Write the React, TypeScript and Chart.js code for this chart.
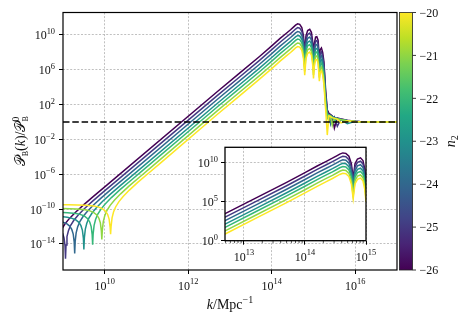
import { useEffect, useRef } from "react";
import { Chart, registerables } from "chart.js";

Chart.register(...registerables);

const SERIF = '"Liberation Serif", "DejaVu Serif", serif';
const MATH = '"DejaVu Serif", "DejaVu Sans", "Liberation Serif", serif';

// ---------------- data (log10 values) ----------------
const n2Values = [-26, -25, -24, -23, -22, -21, -20];

// low-k part: plateau, zero-crossing dip, onset of the k^4 rise (own k grid per curve)
const lowLogK_n26 = [7.85, 8.25, 8.45, 8.55, 8.65, 8.73, 8.78, 8.815, 8.838, 8.85, 8.862, 8.885, 8.92, 8.97, 9.05, 9.15, 9.3, 9.5, 9.75, 10.05];
const lowLogP_n26 = [-12.05, -12.11, -12.2, -12.3, -12.49, -12.79, -13.17, -13.7, -14.59, -16.15, -14.54, -13.56, -12.89, -12.31, -11.69, -11.1, -10.37, -9.49, -8.46, -7.25];
const lowLogK_n25 = [8.06, 8.46, 8.66, 8.76, 8.86, 8.94, 8.99, 9.025, 9.048, 9.06, 9.072, 9.095, 9.13, 9.18, 9.26, 9.36, 9.51, 9.71, 9.96, 10.26];
const lowLogP_n25 = [-11.65, -11.71, -11.8, -11.9, -12.09, -12.39, -12.77, -13.3, -14.19, -15.7, -14.14, -13.16, -12.49, -11.91, -11.29, -10.7, -9.97, -9.09, -8.06, -6.85];
const lowLogK_n24 = [8.28, 8.68, 8.88, 8.98, 9.08, 9.16, 9.21, 9.245, 9.268, 9.28, 9.292, 9.315, 9.35, 9.4, 9.48, 9.58, 9.73, 9.93, 10.18, 10.48];
const lowLogP_n24 = [-11.22, -11.28, -11.37, -11.47, -11.66, -11.96, -12.34, -12.87, -13.76, -15.1, -13.71, -12.73, -12.06, -11.48, -10.86, -10.27, -9.54, -8.66, -7.63, -6.42];
const lowLogK_n23 = [8.5, 8.9, 9.1, 9.2, 9.3, 9.38, 9.43, 9.465, 9.488, 9.5, 9.512, 9.535, 9.57, 9.62, 9.7, 9.8, 9.95, 10.15, 10.4, 10.7];
const lowLogP_n23 = [-10.79, -10.85, -10.94, -11.04, -11.23, -11.53, -11.91, -12.44, -13.33, -14.65, -13.28, -12.3, -11.63, -11.05, -10.43, -9.84, -9.11, -8.23, -7.2, -5.99];
const lowLogK_n22 = [8.71, 9.11, 9.31, 9.41, 9.51, 9.59, 9.64, 9.675, 9.698, 9.71, 9.722, 9.745, 9.78, 9.83, 9.91, 10.01, 10.16, 10.36, 10.61, 10.91];
const lowLogP_n22 = [-10.36, -10.42, -10.51, -10.61, -10.8, -11.1, -11.48, -12.01, -12.9, -14.1, -12.85, -11.87, -11.2, -10.62, -10.0, -9.41, -8.68, -7.8, -6.77, -5.56];
const lowLogK_n21 = [8.8, 8.93, 9.33, 9.53, 9.63, 9.73, 9.81, 9.86, 9.895, 9.918, 9.93, 9.942, 9.965, 10.0, 10.05, 10.13, 10.23, 10.38, 10.58, 10.83, 11.13];
const lowLogP_n21 = [-9.93, -9.93, -9.99, -10.08, -10.18, -10.37, -10.67, -11.05, -11.58, -12.47, -13.5, -12.42, -11.44, -10.77, -10.19, -9.57, -8.98, -8.25, -7.37, -6.34, -5.13];
const lowLogK_n20 = [8.8, 9.14, 9.54, 9.74, 9.84, 9.94, 10.02, 10.07, 10.105, 10.128, 10.14, 10.152, 10.175, 10.21, 10.26, 10.34, 10.44, 10.59, 10.79, 11.04, 11.34];
const lowLogP_n20 = [-9.5, -9.5, -9.56, -9.65, -9.75, -9.94, -10.24, -10.62, -11.15, -12.04, -12.9, -11.99, -11.01, -10.34, -9.76, -9.14, -8.55, -7.82, -6.94, -5.91, -4.7];

// high-k part: peak and oscillations (shared k grid)
const highLogK = [12.7, 13.2, 13.7, 14.0, 14.2, 14.35, 14.45, 14.52, 14.57, 14.62, 14.67, 14.72, 14.76, 14.79, 14.82, 14.86, 14.91, 14.95, 14.98, 15.0, 15.02, 15.05, 15.08, 15.11, 15.14, 15.16, 15.19, 15.22, 15.25];
const highLogP_n26 = [3.5, 5.5, 7.5, 8.75, 9.6, 10.2, 10.6, 10.9, 11.12, 11.28, 11.22, 10.85, 9.9, 8.0, 9.9, 10.5, 10.65, 10.3, 9.2, 7.6, 9.0, 9.75, 9.8, 9.4, 7.3, 8.3, 8.5, 8.0, 6.9];
const highLogP_n25 = [3.06, 5.06, 7.06, 8.31, 9.16, 9.76, 10.16, 10.46, 10.68, 10.84, 10.78, 10.41, 9.46, 7.56, 9.46, 10.06, 10.21, 9.86, 8.76, 7.16, 8.56, 9.31, 9.36, 8.96, 6.86, 7.86, 8.06, 7.56, 6.46];
const highLogP_n24 = [2.61, 4.61, 6.61, 7.86, 8.71, 9.31, 9.71, 10.01, 10.23, 10.39, 10.33, 9.96, 9.01, 7.11, 9.01, 9.61, 9.76, 9.41, 8.31, 6.71, 8.11, 8.86, 8.91, 8.51, 6.41, 7.41, 7.61, 7.11, 6.01];
const highLogP_n23 = [2.16, 4.16, 6.16, 7.41, 8.26, 8.86, 9.26, 9.56, 9.78, 9.94, 9.88, 9.51, 8.56, 6.66, 8.56, 9.16, 9.31, 8.96, 7.86, 6.26, 7.66, 8.41, 8.46, 8.06, 5.96, 6.96, 7.16, 6.66, 5.56];
const highLogP_n22 = [1.75, 3.75, 5.75, 7.0, 7.85, 8.45, 8.85, 9.15, 9.37, 9.53, 9.47, 9.1, 8.15, 6.25, 8.15, 8.75, 8.9, 8.55, 7.45, 5.85, 7.25, 8.0, 8.05, 7.65, 5.55, 6.55, 6.75, 6.25, 5.15];
const highLogP_n21 = [1.3, 3.3, 5.3, 6.55, 7.4, 8.0, 8.4, 8.7, 8.92, 9.08, 9.02, 8.65, 7.7, 5.8, 7.7, 8.3, 8.45, 8.1, 7.0, 5.4, 6.8, 7.55, 7.6, 7.2, 5.1, 6.1, 6.3, 5.8, 4.7];
const highLogP_n20 = [0.89, 2.89, 4.89, 6.14, 6.99, 7.59, 7.99, 8.29, 8.51, 8.67, 8.61, 8.24, 7.29, 5.39, 7.29, 7.89, 8.04, 7.69, 6.59, 4.99, 6.39, 7.14, 7.19, 6.79, 4.69, 5.69, 5.89, 5.39, 4.29];

// tail: steep fall and noisy approach to 1 (shared k grid)
const tailLogK = [15.29, 15.33, 15.37, 15.41, 15.45, 15.5, 15.57, 15.66, 15.81, 16.0, 16.13, 16.5, 17.0];
const tailLogP_n26 = [3.7, 1.4, 1.0, 0.85, 0.7, -0.7, 0.47, 0.35, 0.2, 0.08, 0.03, 0.01, 0.0];
const tailLogP_n25 = [3.3, 1.2, 0.9, 0.75, 0.3, 0.6, -0.5, 0.33, 0.18, 0.08, 0.03, 0.01, 0.0];
const tailLogP_n24 = [2.9, 1.0, 0.85, -0.2, 0.65, 0.5, 0.42, 0.3, 0.17, 0.07, 0.03, 0.01, 0.0];
const tailLogP_n23 = [2.6, 0.9, 0.2, 0.75, 0.6, 0.5, 0.4, 0.28, -0.2, 0.07, 0.03, 0.01, 0.0];
const tailLogP_n22 = [2.3, 0.8, 0.8, 0.7, 0.55, 0.1, 0.38, 0.26, 0.15, 0.06, 0.03, 0.01, 0.0];
const tailLogP_n21 = [1.9, 0.4, 0.75, 0.65, -0.4, 0.45, 0.35, 0.25, 0.14, 0.06, 0.02, 0.01, 0.0];
const tailLogP_n20 = [1.5, -1.5, 0.7, 0.6, 0.5, 0.42, 0.33, -0.1, 0.13, 0.05, 0.02, 0.01, 0.0];

// reference level (dashed)
const refLineLogK = [9, 17];
const refLineValue = 1;

// axes
const mainXRange = [9, 17];
const mainYRange = [-17, 12.58];
const mainXTickExp = [10, 12, 14, 16];
const mainYTickExp = [-14, -10, -6, -2, 2, 6, 10];
const insetXRange = [12.69, 15.0];
const insetYRange = [0, 12];
const insetXTickExp = [13, 14, 15];
const insetYTickExp = [0, 5, 10];
const insetMinorMultipliers = [2, 3, 4, 5, 6, 7, 8, 9];
const colorbarTicks = [-26, -25, -24, -23, -22, -21, -20];

// ---------------- styles ----------------
const lineColors = ["#440154", "#443983", "#31688e", "#21918c", "#35b779", "#90d743", "#fde725"];
const viridisStops = ["#440154", "#482475", "#414487", "#355f8d", "#2a788e", "#21918c", "#22a884", "#44bf70", "#7ad151", "#bddf26", "#fde725"];
const GRID = "#b0b0b0";
const INK = "#111";

const curves = [
  { n2: n2Values[0], lowK: lowLogK_n26, lowP: lowLogP_n26, highP: highLogP_n26, tailP: tailLogP_n26 },
  { n2: n2Values[1], lowK: lowLogK_n25, lowP: lowLogP_n25, highP: highLogP_n25, tailP: tailLogP_n25 },
  { n2: n2Values[2], lowK: lowLogK_n24, lowP: lowLogP_n24, highP: highLogP_n24, tailP: tailLogP_n24 },
  { n2: n2Values[3], lowK: lowLogK_n23, lowP: lowLogP_n23, highP: highLogP_n23, tailP: tailLogP_n23 },
  { n2: n2Values[4], lowK: lowLogK_n22, lowP: lowLogP_n22, highP: highLogP_n22, tailP: tailLogP_n22 },
  { n2: n2Values[5], lowK: lowLogK_n21, lowP: lowLogP_n21, highP: highLogP_n21, tailP: tailLogP_n21 },
  { n2: n2Values[6], lowK: lowLogK_n20, lowP: lowLogP_n20, highP: highLogP_n20, tailP: tailLogP_n20 },
];

const toPoints = (ks: number[], ps: number[]) => ks.map((k, i) => ({ x: 10 ** k, y: 10 ** ps[i] }));
const curveData = (c: any) => [
  ...toPoints(c.lowK, c.lowP),
  ...toPoints(highLogK, c.highP),
  ...toPoints(tailLogK, c.tailP),
];

const curveDatasets = (lw: number) =>
  curves.map((c, i) => ({
    label: `n2 = ${c.n2}`,
    data: curveData(c),
    borderColor: lineColors[i],
    backgroundColor: lineColors[i],
    borderWidth: lw,
    pointRadius: 0,
    showLine: true,
    fill: false,
    tension: 0,
    order: curves.length - i,
  }));

// ---------------- rich text helper ----------------
type Part = { t: string; size: number; italic?: boolean; dy?: number; stack?: boolean; fam?: string };
const fontOf = (p: Part) => `${p.italic ? "italic " : ""}${p.size}px ${p.fam || SERIF}`;

function drawParts(ctx: CanvasRenderingContext2D, parts: Part[], x: number, y: number, align: "left" | "center" | "right") {
  const pos: number[] = [];
  let cur = 0, prevStart = 0, prevEnd = 0;
  for (const p of parts) {
    ctx.font = fontOf(p);
    const w = ctx.measureText(p.t).width;
    if (p.stack) {
      pos.push(prevStart);
      cur = Math.max(prevEnd, prevStart + w);
      prevEnd = cur;
    } else {
      pos.push(cur);
      prevStart = cur;
      cur = cur + w;
      prevEnd = cur;
    }
  }
  const x0 = align === "center" ? x - cur / 2 : align === "right" ? x - cur : x;
  ctx.textAlign = "left";
  ctx.textBaseline = "alphabetic";
  parts.forEach((p, i) => {
    ctx.font = fontOf(p);
    ctx.fillText(p.t, x0 + pos[i], y + (p.dy || 0));
  });
}

const expText = (e: number) => (e < 0 ? "\u2212" + Math.abs(e) : String(e));
const powParts = (e: number, size = 12): Part[] => [
  { t: "10", size },
  { t: expText(e), size: size * 0.7, dy: -size * 0.45 },
];
const expOf = (v: number) => Math.round(Math.log10(v));

// ---------------- main chart ----------------
const mainDecor = {
  id: "mainDecor",
  afterDraw(chart: any) {
    const { ctx, chartArea: a, scales } = chart;
    ctx.save();
    ctx.strokeStyle = "#000";
    ctx.lineWidth = 1.2;
    ctx.strokeRect(a.left, a.top, a.right - a.left, a.bottom - a.top);

    ctx.fillStyle = INK;
    scales.x.ticks.forEach((t: any) => {
      const px = scales.x.getPixelForValue(t.value);
      drawParts(ctx, powParts(expOf(t.value)), px, a.bottom + 19.5, "center");
    });
    scales.y.ticks.forEach((t: any) => {
      const py = scales.y.getPixelForValue(t.value);
      drawParts(ctx, powParts(expOf(t.value)), a.left - 8, py + 4.5, "right");
    });

    // x title
    drawParts(
      ctx,
      [
        { t: "k", size: 14, italic: true },
        { t: "/Mpc", size: 14 },
        { t: "\u22121", size: 10, dy: -6 },
      ],
      (a.left + a.right) / 2,
      308.5,
      "center"
    );

    // y title
    ctx.save();
    ctx.translate(25, (a.top + a.bottom) / 2);
    ctx.rotate(-Math.PI / 2);
    drawParts(
      ctx,
      [
        { t: "\u{1D4AB}", size: 14, fam: MATH },
        { t: "B", size: 8, dy: 3 },
        { t: "(", size: 14 },
        { t: "k", size: 14, italic: true },
        { t: ")/", size: 14 },
        { t: "\u{1D4AB}", size: 14, fam: MATH },
        { t: "0", size: 9.5, dy: -6.5 },
        { t: "B", size: 8, dy: 3, stack: true },
      ],
      0,
      0,
      "center"
    );
    ctx.restore();

    // colorbar
    const cb = scales.cb;
    const top = cb.getPixelForValue(colorbarTicks[colorbarTicks.length - 1]);
    const bot = cb.getPixelForValue(colorbarTicks[0]);
    const x0 = a.right + 2.5;
    const w = 13;
    const grad = ctx.createLinearGradient(0, bot, 0, top);
    viridisStops.forEach((c, i) => grad.addColorStop(i / (viridisStops.length - 1), c));
    ctx.fillStyle = grad;
    ctx.fillRect(x0, top, w, bot - top);
    ctx.strokeStyle = "#222";
    ctx.lineWidth = 0.8;
    ctx.strokeRect(x0, top, w, bot - top);
    ctx.fillStyle = INK;
    ctx.lineWidth = 0.9;
    cb.ticks.forEach((t: any) => {
      const py = cb.getPixelForValue(t.value);
      ctx.beginPath();
      ctx.moveTo(x0 + w, py);
      ctx.lineTo(x0 + w + 3.5, py);
      ctx.stroke();
      drawParts(ctx, [{ t: expText(t.value), size: 12 }], x0 + w + 7, py + 4.2, "left");
    });

    // colorbar label
    ctx.save();
    ctx.translate(455, (a.top + a.bottom) / 2);
    ctx.rotate(-Math.PI / 2);
    drawParts(
      ctx,
      [
        { t: "n", size: 14, italic: true },
        { t: "2", size: 10, dy: 3 },
      ],
      0,
      0,
      "center"
    );
    ctx.restore();
    ctx.restore();
  },
};

const mainConfig = (): any => ({
  type: "scatter",
  data: {
    datasets: [
      {
        label: "reference",
        data: refLineLogK.map((k) => ({ x: 10 ** k, y: refLineValue })),
        borderColor: "#000",
        borderWidth: 1.6,
        borderDash: [6.5, 2.8],
        pointRadius: 0,
        showLine: true,
        fill: false,
        order: 0,
      },
      ...curveDatasets(1.5),
    ],
  },
  options: {
    animation: false,
    responsive: false,
    devicePixelRatio: 1,
    events: [],
    layout: { padding: { top: 12.5, left: 0, right: 0, bottom: 0 } },
    plugins: { legend: { display: false }, tooltip: { enabled: false } },
    scales: {
      x: {
        type: "logarithmic",
        position: "bottom",
        min: 10 ** mainXRange[0],
        max: 10 ** mainXRange[1],
        afterBuildTicks: (s: any) => {
          s.ticks = mainXTickExp.map((e) => ({ value: 10 ** e, major: true }));
        },
        afterFit: (s: any) => {
          s.height = 43;
        },
        ticks: { display: false },
        grid: { color: GRID, lineWidth: 0.8, drawTicks: true, tickLength: 4, tickColor: "#000", tickWidth: 1, tickBorderDash: [] },
        border: { display: false, dash: [2, 1.6] },
      },
      y: {
        type: "logarithmic",
        position: "left",
        min: 10 ** mainYRange[0],
        max: 10 ** mainYRange[1],
        afterBuildTicks: (s: any) => {
          s.ticks = mainYTickExp.map((e) => ({ value: 10 ** e, major: true }));
        },
        afterFit: (s: any) => {
          s.width = 63;
        },
        ticks: { display: false },
        grid: { color: GRID, lineWidth: 0.8, drawTicks: true, tickLength: 4, tickColor: "#000", tickWidth: 1, tickBorderDash: [] },
        border: { display: false, dash: [2, 1.6] },
      },
      cb: {
        type: "linear",
        position: "right",
        min: colorbarTicks[0],
        max: colorbarTicks[colorbarTicks.length - 1],
        afterBuildTicks: (s: any) => {
          s.ticks = colorbarTicks.map((v) => ({ value: v }));
        },
        afterFit: (s: any) => {
          s.width = 72;
        },
        ticks: { display: false },
        grid: { display: false },
        border: { display: false },
      },
    },
  },
  plugins: [mainDecor],
});

// ---------------- inset chart ----------------
const insetDecor = {
  id: "insetDecor",
  beforeDraw(chart: any) {
    const { ctx, chartArea: a } = chart;
    ctx.save();
    ctx.fillStyle = "#fff";
    ctx.fillRect(a.left, a.top, a.right - a.left, a.bottom - a.top);
    ctx.restore();
  },
  afterDraw(chart: any) {
    const { ctx, chartArea: a, scales } = chart;
    ctx.save();
    ctx.strokeStyle = "#000";
    ctx.lineWidth = 1.3;
    ctx.strokeRect(a.left, a.top, a.right - a.left, a.bottom - a.top);
    ctx.lineWidth = 0.7;
    scales.x.ticks.forEach((t: any) => {
      if (t.major) return;
      const px = scales.x.getPixelForValue(t.value);
      ctx.beginPath();
      ctx.moveTo(px, a.bottom);
      ctx.lineTo(px, a.bottom + 2.2);
      ctx.stroke();
    });
    ctx.fillStyle = INK;
    scales.x.ticks.forEach((t: any) => {
      if (!t.major) return;
      const px = scales.x.getPixelForValue(t.value);
      drawParts(ctx, powParts(expOf(t.value)), px, a.bottom + 20, "center");
    });
    scales.y.ticks.forEach((t: any) => {
      const py = scales.y.getPixelForValue(t.value);
      drawParts(ctx, powParts(expOf(t.value)), a.left - 7, py + 4.5, "right");
    });
    ctx.restore();
  },
};

const insetConfig = (): any => ({
  type: "scatter",
  data: { datasets: curveDatasets(1.5) },
  options: {
    animation: false,
    responsive: false,
    devicePixelRatio: 1,
    events: [],
    layout: { padding: { top: 147.3, left: 185, right: 103, bottom: 52.3 } },
    plugins: { legend: { display: false }, tooltip: { enabled: false } },
    scales: {
      x: {
        type: "logarithmic",
        position: "bottom",
        min: 10 ** insetXRange[0],
        max: 10 ** insetXRange[1],
        afterBuildTicks: (s: any) => {
          const ticks: any[] = [];
          insetXTickExp.forEach((e) => {
            ticks.push({ value: 10 ** e, major: true });
            [...insetMinorMultipliers].forEach((m) => ticks.push({ value: m * 10 ** (e - 1), major: false }));
          });
          s.ticks = ticks
            .filter((t) => t.value >= s.min * 1.0001 && t.value <= s.max * 1.0001)
            .sort((p, q) => p.value - q.value);
        },
        afterFit: (s: any) => {
          s.height = 20;
        },
        ticks: { display: false },
        grid: {
          color: (c: any) => (c.tick && c.tick.major ? GRID : "rgba(0,0,0,0)"),
          lineWidth: 0.8,
          drawTicks: true,
          tickLength: 4,
          tickColor: (c: any) => (c.tick && c.tick.major ? "#000" : "rgba(0,0,0,0)"),
          tickWidth: 1,
          tickBorderDash: [],
        },
        border: { display: false, dash: [2, 1.6] },
      },
      y: {
        type: "logarithmic",
        position: "left",
        min: 10 ** insetYRange[0],
        max: 10 ** insetYRange[1],
        afterBuildTicks: (s: any) => {
          s.ticks = insetYTickExp.map((e) => ({ value: 10 ** e, major: true }));
        },
        afterFit: (s: any) => {
          s.width = 40;
        },
        ticks: { display: false },
        grid: { color: GRID, lineWidth: 0.8, drawTicks: true, tickLength: 4, tickColor: "#000", tickWidth: 1, tickBorderDash: [] },
        border: { display: false, dash: [2, 1.6] },
      },
    },
  },
  plugins: [insetDecor],
});

export default function App() {
  const mainRef = useRef<HTMLCanvasElement>(null);
  const insetRef = useRef<HTMLCanvasElement>(null);
  useEffect(() => {
    const main = new Chart(mainRef.current as HTMLCanvasElement, mainConfig());
    const inset = new Chart(insetRef.current as HTMLCanvasElement, insetConfig());
    return () => {
      main.destroy();
      inset.destroy();
    };
  }, []);
  const abs: any = { position: "absolute", left: 0, top: 0, width: 469, height: 313 };
  return (
    <div style={{ position: "fixed", left: 0, top: 0, width: 469, height: 313, background: "#fff" }}>
      <canvas ref={mainRef} width={469} height={313} style={abs} />
      <canvas ref={insetRef} width={469} height={313} style={abs} />
    </div>
  );
}
